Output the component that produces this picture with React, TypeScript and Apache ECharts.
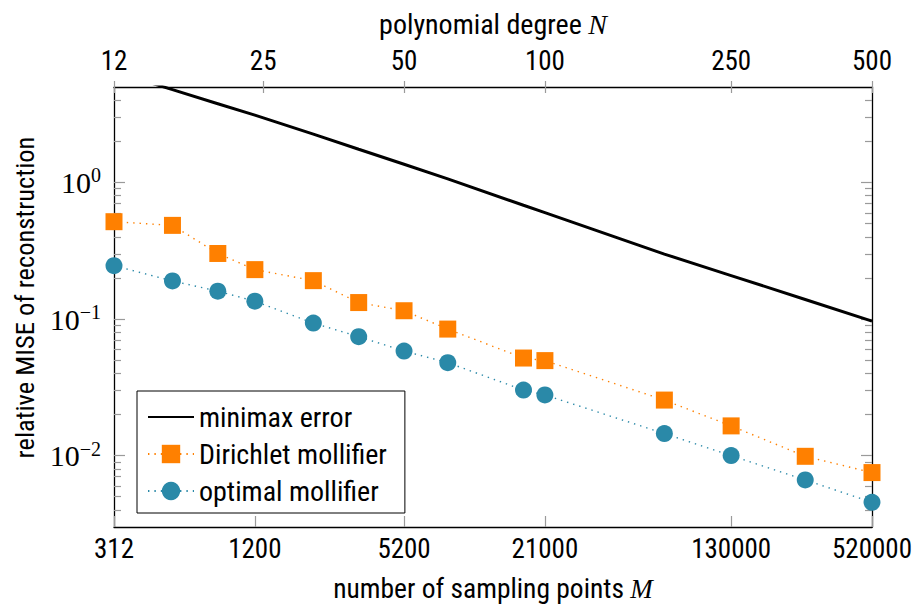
import { useEffect, useRef } from 'react';
import * as echarts from 'echarts';

// polynomial degree N of each sample
const N_VALUES = [12, 16, 20, 24, 32, 40, 50, 62, 90, 100, 180, 250, 360, 500];
// relative MISE values
const MINIMAX = [6.48, 4.78, 3.77, 3.11, 2.26, 1.75, 1.36, 1.063, 0.681, 0.601, 0.299, 0.208, 0.139, 0.0966];
const DIRICHLET = [0.516, 0.485, 0.302, 0.23, 0.191, 0.132, 0.115, 0.0844, 0.0518, 0.0496, 0.0255, 0.0165, 0.00988, 0.00751];
const OPTIMAL = [0.246, 0.19, 0.16, 0.135, 0.0934, 0.0743, 0.0583, 0.0479, 0.0302, 0.0278, 0.0145, 0.01, 0.00663, 0.00455];

// axis ticks
const TOP_TICKS = [12, 25, 50, 100, 250, 500];
const BOTTOM_TICKS = [12, 24, 50, 100, 250, 500];
const BOTTOM_LABELS = ['312', '1200', '5200', '21000', '130000', '520000'];
const Y_MAJOR = [0.01, 0.1, 1];
const Y_MINOR = [0.004, 0.005, 0.006, 0.007, 0.008, 0.009, 0.02, 0.03, 0.04, 0.05, 0.06, 0.07, 0.08, 0.09, 0.2, 0.3, 0.4, 0.5, 0.6, 0.7, 0.8, 0.9, 2, 3, 4];
const X_MIN = 12;
const X_MAX = 500;
const Y_MIN = 0.003;
const Y_MAX = 5;

const FONT = "'Roboto Condensed', Roboto, sans-serif";
const SERIF = "'Liberation Serif', 'DejaVu Serif', serif";
const TICK_GRAY = '#9a9a9a';
const ORANGE = '#ff8000';
const BLUE = '#2a89a8';

const pairs = (ys: number[]) => N_VALUES.map((n, i) => [n, ys[i]]);

function buildOption(): any {
  const xBase = {
    type: 'log',
    logBase: 10,
    min: X_MIN,
    max: X_MAX,
    splitLine: { show: false },
    nameMoveOverlap: false,
  };
  const yBase = {
    type: 'log',
    logBase: 10,
    min: Y_MIN,
    max: Y_MAX,
    splitLine: { show: false },
    nameMoveOverlap: false,
  };
  const axisLine = { show: true, onZero: false, lineStyle: { color: '#000', width: 1.3 } };
  const supLabel = (v: number) => {
    const e = Math.round(Math.log10(v));
    return `{b|10}{s|${e < 0 ? '\u2212' + -e : e}}`;
  };
  return {
    animation: false,
    backgroundColor: '#fff',
    grid: { left: 114, top: 87, width: 758, height: 440, containLabel: false, outerBoundsMode: 'none' },
    xAxis: [
      {
        ...xBase,
        position: 'bottom',
        axisLine,
        axisTick: { show: true, inside: true, length: 11, customValues: BOTTOM_TICKS, lineStyle: { color: TICK_GRAY, width: 1.2 } },
        axisLabel: {
          show: true,
          customValues: BOTTOM_TICKS,
          margin: 8.5,
          fontFamily: FONT,
          fontSize: 27,
          color: '#000',
          formatter: (v: number) => {
            const i = BOTTOM_TICKS.findIndex((t) => Math.abs(t - v) < 1e-6);
            return i >= 0 ? BOTTOM_LABELS[i] : '';
          },
        },
        name: 'number of sampling points {i|M}',
        nameLocation: 'middle',
        nameGap: 47.5,
        nameTextStyle: {
          fontFamily: FONT,
          fontSize: 27.5,
          color: '#000',
          rich: { i: { fontFamily: SERIF, fontStyle: 'italic', fontSize: 27, color: '#000' } },
        },
      },
      {
        ...xBase,
        position: 'top',
        axisLine,
        axisTick: { show: true, inside: true, length: 6, customValues: TOP_TICKS, lineStyle: { color: TICK_GRAY, width: 1.2 } },
        axisLabel: {
          show: true,
          customValues: TOP_TICKS,
          margin: 12.5,
          fontFamily: FONT,
          fontSize: 27,
          color: '#000',
          formatter: (v: number) => String(Math.round(v)),
        },
        name: 'polynomial degree {i|N}',
        nameLocation: 'middle',
        nameGap: 49,
        nameTextStyle: {
          fontFamily: FONT,
          fontSize: 28,
          color: '#000',
          rich: { i: { fontFamily: SERIF, fontStyle: 'italic', fontSize: 28, color: '#000' } },
        },
      },
      {
        ...xBase,
        position: 'top',
        axisLine: { show: false },
        axisTick: { show: true, inside: false, length: 6, customValues: TOP_TICKS, lineStyle: { color: TICK_GRAY, width: 1.2 } },
        axisLabel: { show: false },
      },
    ],
    yAxis: [
      {
        ...yBase,
        position: 'left',
        axisLine,
        axisTick: { show: true, inside: true, length: 11, customValues: Y_MAJOR, lineStyle: { color: TICK_GRAY, width: 1.2 } },
        axisLabel: {
          show: true,
          customValues: Y_MAJOR,
          margin: 13,
          formatter: supLabel,
          rich: {
            b: { fontFamily: SERIF, fontSize: 30, color: '#000' },
            s: { fontFamily: SERIF, fontSize: 20, color: '#000', padding: [0, 0, 14, 0] },
          },
        },
        name: 'relative MISE of reconstruction',
        nameLocation: 'middle',
        nameGap: 76,
        nameTextStyle: { fontFamily: FONT, fontSize: 26.5, color: '#000', padding: [0, 0, 0, 19] },
      },
      {
        ...yBase,
        position: 'left',
        axisLine: { show: false },
        axisTick: { show: true, inside: true, length: 7, customValues: Y_MINOR, lineStyle: { color: TICK_GRAY, width: 1.2 } },
        axisLabel: { show: false },
      },
      {
        ...yBase,
        position: 'right',
        axisLine,
        axisTick: { show: true, inside: true, length: 11, customValues: Y_MAJOR, lineStyle: { color: TICK_GRAY, width: 1.2 } },
        axisLabel: { show: false },
      },
      {
        ...yBase,
        position: 'right',
        axisLine: { show: false },
        axisTick: { show: true, inside: true, length: 7, customValues: Y_MINOR, lineStyle: { color: TICK_GRAY, width: 1.2 } },
        axisLabel: { show: false },
      },
    ],
    legend: {
      orient: 'vertical',
      left: 137,
      top: 391,
      itemWidth: 46,
      itemHeight: 23,
      itemGap: 9,
      padding: [12, 18, 8, 10],
      borderColor: '#000',
      borderWidth: 1,
      borderRadius: 0,
      backgroundColor: '#fff',
      textStyle: { fontFamily: FONT, fontSize: 28, color: '#000' },
      data: [
        { name: 'minimax error', itemStyle: { color: 'rgba(0,0,0,0)', borderWidth: 0, opacity: 0 } },
        'Dirichlet mollifier',
        'optimal mollifier',
      ],
    },
    series: [
      {
        name: 'minimax error',
        type: 'line',
        xAxisIndex: 0,
        yAxisIndex: 0,
        data: pairs(MINIMAX),
        symbol: 'none',
        clip: true,
        lineStyle: { color: '#000', width: 3 },
        itemStyle: { color: '#000' },
      },
      {
        name: 'Dirichlet mollifier',
        type: 'line',
        xAxisIndex: 0,
        yAxisIndex: 0,
        data: pairs(DIRICHLET),
        symbol: 'rect',
        symbolSize: 17,
        clip: false,
        lineStyle: { color: ORANGE, width: 1.4, type: [1.4, 5] },
        itemStyle: { color: ORANGE },
      },
      {
        name: 'optimal mollifier',
        type: 'line',
        xAxisIndex: 0,
        yAxisIndex: 0,
        data: pairs(OPTIMAL),
        symbol: 'circle',
        symbolSize: 17,
        clip: false,
        lineStyle: { color: BLUE, width: 1.4, type: [1.4, 5] },
        itemStyle: { color: BLUE },
      },
    ],
  };
}

export default function App() {
  const ref = useRef<HTMLDivElement>(null);
  useEffect(() => {
    const chart = echarts.init(ref.current!, null, { renderer: 'svg' });
    chart.setOption(buildOption());
    return () => chart.dispose();
  }, []);
  return (
    <div
      ref={ref}
      style={{ position: 'fixed', left: 0, top: 0, width: 917, height: 605, background: '#fff' }}
    />
  );
}
